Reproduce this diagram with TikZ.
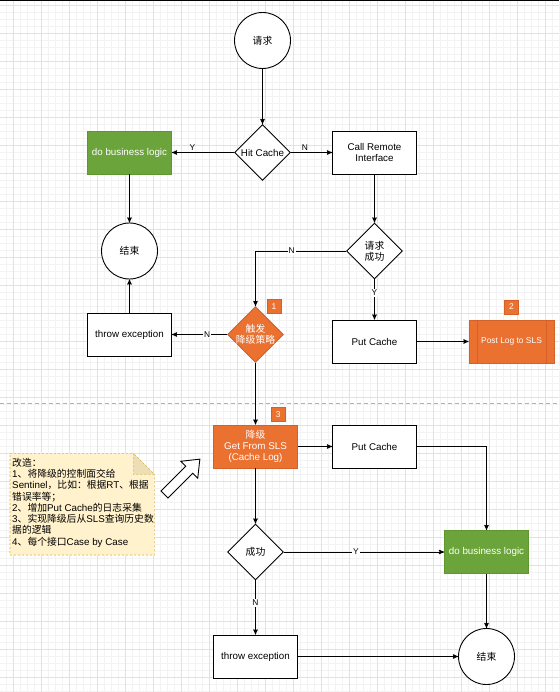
\documentclass[tikz,border=0pt]{standalone}
\usepackage{fontspec}
\setmainfont{Liberation Sans}
\newfontfamily\cjk{Noto Sans CJK SC}
\newcommand{\zh}[1]{{\cjk #1}}
\usepackage{tikz}
\usetikzlibrary{arrows, shapes.geometric}
\definecolor{bizgreen}{HTML}{6BA43A}
\definecolor{bizgreenline}{HTML}{5E9630}
\definecolor{degorange}{HTML}{EB7131}
\definecolor{degorangeline}{HTML}{D4602A}
\definecolor{notefill}{HTML}{FFF2CC}
\definecolor{noteline}{HTML}{D6B656}
\definecolor{notefold}{HTML}{EDDFB5}
\definecolor{gridmajor}{HTML}{E2E2E2}
\definecolor{gridminor}{HTML}{F3F3F3}
\newcommand{\boxfont}{\fontsize{9.8pt}{11.3pt}\selectfont}
\newcommand{\lblfont}{\fontsize{8.4pt}{10pt}\selectfont}

\begin{document}
\begin{tikzpicture}[x=1pt,y=-1pt,>=stealth',line width=0.9pt,font=\boxfont]
  \tikzstyle{proc}=[rectangle,draw=black,fill=white,minimum width=84pt,minimum height=43pt,inner sep=1pt,align=center]
  \tikzstyle{biz}=[proc,draw=bizgreenline,fill=bizgreen,text=white]
  \tikzstyle{deg}=[proc,draw=degorangeline,fill=degorange,text=white]
  \tikzstyle{term}=[circle,draw=black,fill=white,minimum size=56pt,inner sep=0pt]
  \tikzstyle{dec}=[diamond,draw=black,fill=white,minimum width=56pt,minimum height=56pt,inner sep=0pt]
  \tikzstyle{dtext}=[align=center,inner sep=0pt]
  \tikzstyle{badge}=[rectangle,draw=degorangeline,fill=degorange,text=white,minimum size=14pt,inner sep=0pt,font=\lblfont,line width=0.5pt]
  \tikzstyle{online}=[fill=white,inner sep=1pt,font=\lblfont]
  \tikzstyle{overline}=[above,inner sep=2pt,font=\lblfont]

  \useasboundingbox (0,0) rectangle (559,692);

  % background grid
  \foreach \i in {0,...,80}
    \draw[gridminor,line width=0.5pt] ({\i*7-0.7},0) -- ({\i*7-0.7},692);
  \foreach \j in {0,...,98}
    \draw[gridminor,line width=0.5pt] (0,{\j*7+5.3}) -- (559,{\j*7+5.3});
  \foreach \i in {0,...,19}
    \draw[gridmajor,line width=0.6pt] ({\i*28+13.3},0) -- ({\i*28+13.3},692);
  \foreach \j in {0,...,24}
    \draw[gridmajor,line width=0.6pt] (0,{\j*28+5.3}) -- (559,{\j*28+5.3});
  \fill[black] (0,0) rectangle (559,1.3);

  % separator
  \draw[black!30,dash pattern=on 4pt off 3pt,line width=0.6pt] (0,403.3) -- (559,403.3);

  % current flow
  \node[term]  (start)  at (262.5,40.5)  {\zh{请求}};
  \node[dec,label={[dtext]center:Hit Cache}] (hit) at (262.5,152.5) {};
  \node[biz]   (bizA)   at (129.5,152.5) {do business logic};
  \node[proc]  (remote) at (374.5,152.5) {Call Remote\\Interface};
  \node[term]  (endA)   at (129.5,251)   {\zh{结束}};
  \node[dec,label={[dtext]center:{\zh{请求}\\\zh{成功}}}] (ok) at (374.5,251) {};
  \node[dec,draw=degorangeline,fill=degorange,
        label={[dtext,text=white]center:{\zh{触发}\\\zh{降级策略}}}] (degrade) at (255.5,334.5) {};
  \node[proc]  (throwA) at (129.5,334.5) {throw exception};
  \node[proc]  (putA)   at (374.5,341.5) {Put Cache};
  \node[deg,minimum width=85pt,font=\lblfont] (post) at (511.5,341.5) {Post Log to SLS};
  \draw[degorangeline] ([xshift=8.4pt]post.north west) -- ([xshift=8.4pt]post.south west);
  \draw[degorangeline] ([xshift=-8.4pt]post.north east) -- ([xshift=-8.4pt]post.south east);

  % improved flow
  \node[deg]   (sls)    at (255.5,446.5) {\zh{降级}\\Get From SLS\\(Cache Log)};
  \node[proc]  (putB)   at (374.5,446.5) {Put Cache};
  \node[dec,label={[dtext]center:\zh{成功}}] (succ) at (255.5,552) {};
  \node[biz]   (bizB)   at (486.5,552)   {do business logic};
  \node[proc]  (throwB) at (255.5,656.5) {throw exception};
  \node[term]  (endB)   at (486.5,656.5) {\zh{结束}};

  \node[badge] (b1) at (274,306.7)   {1};
  \node[badge] (b2) at (511.5,307)   {2};
  \node[badge] (b3) at (278.3,414.5) {3};

  \path[->] (start) edge (hit)
        (hit) edge node[overline,pos=.67] {Y} (bizA)
        (hit) edge node[overline,pos=.34] {N} (remote)
        (bizA) edge (endA)
        (remote) edge (ok)
        (ok) edge node[online,pos=.33] {Y} (putA)
        (degrade) edge node[online,pos=.36] {N} (throwA)
        (throwA) edge (endA)
        (degrade) edge (sls)
        (putA) edge (post)
        (sls) edge (putB)
        (sls) edge (succ)
        (succ) edge node[online,pos=.45] {Y} (bizB)
        (succ) edge node[online,pos=.41] {N} (throwB)
        (bizB) edge (endB)
        (throwB) edge (endB);
  \draw[->] (ok.west) -| node[online,pos=.3] {N} (degrade.north);
  \draw[->] (putB.east) -| (bizB.north);

  % note
  \filldraw[fill=notefill,draw=noteline,dash pattern=on 2pt off 2pt,line width=0.6pt]
    (10,453.3) -- (133.3,453.3) -- (154.3,474.3) -- (154.3,555) -- (10,555) -- cycle;
  \filldraw[fill=notefold,draw=noteline,dash pattern=on 2pt off 2pt,line width=0.6pt]
    (133.3,453.3) -- (133.3,474.3) -- (154.3,474.3) -- cycle;
  \node[anchor=north west,inner sep=0pt,align=left] (memo) at (11.8,457.5)
    {\zh{改造：}\\
     1\zh{、将降级的控制面交给}\\
     Sentinel\zh{，比如：根据}RT\zh{、根据}\\
     \zh{错误率等；}\\
     2\zh{、增加}Put Cache\zh{的日志采集}\\
     3\zh{、实现降级后从}SLS\zh{查询历史数}\\
     \zh{据的逻辑}\\
     4\zh{、每个接口}Case by Case};

  % hollow arrow
  \begin{scope}[shift={(164.5,494.5)},rotate=45]
    \draw[fill=white] (0,5) -- (35,5) -- (35,12) -- (50,0) -- (35,-12) -- (35,-5) -- (0,-5) -- cycle;
  \end{scope}
\end{tikzpicture}
\end{document}
